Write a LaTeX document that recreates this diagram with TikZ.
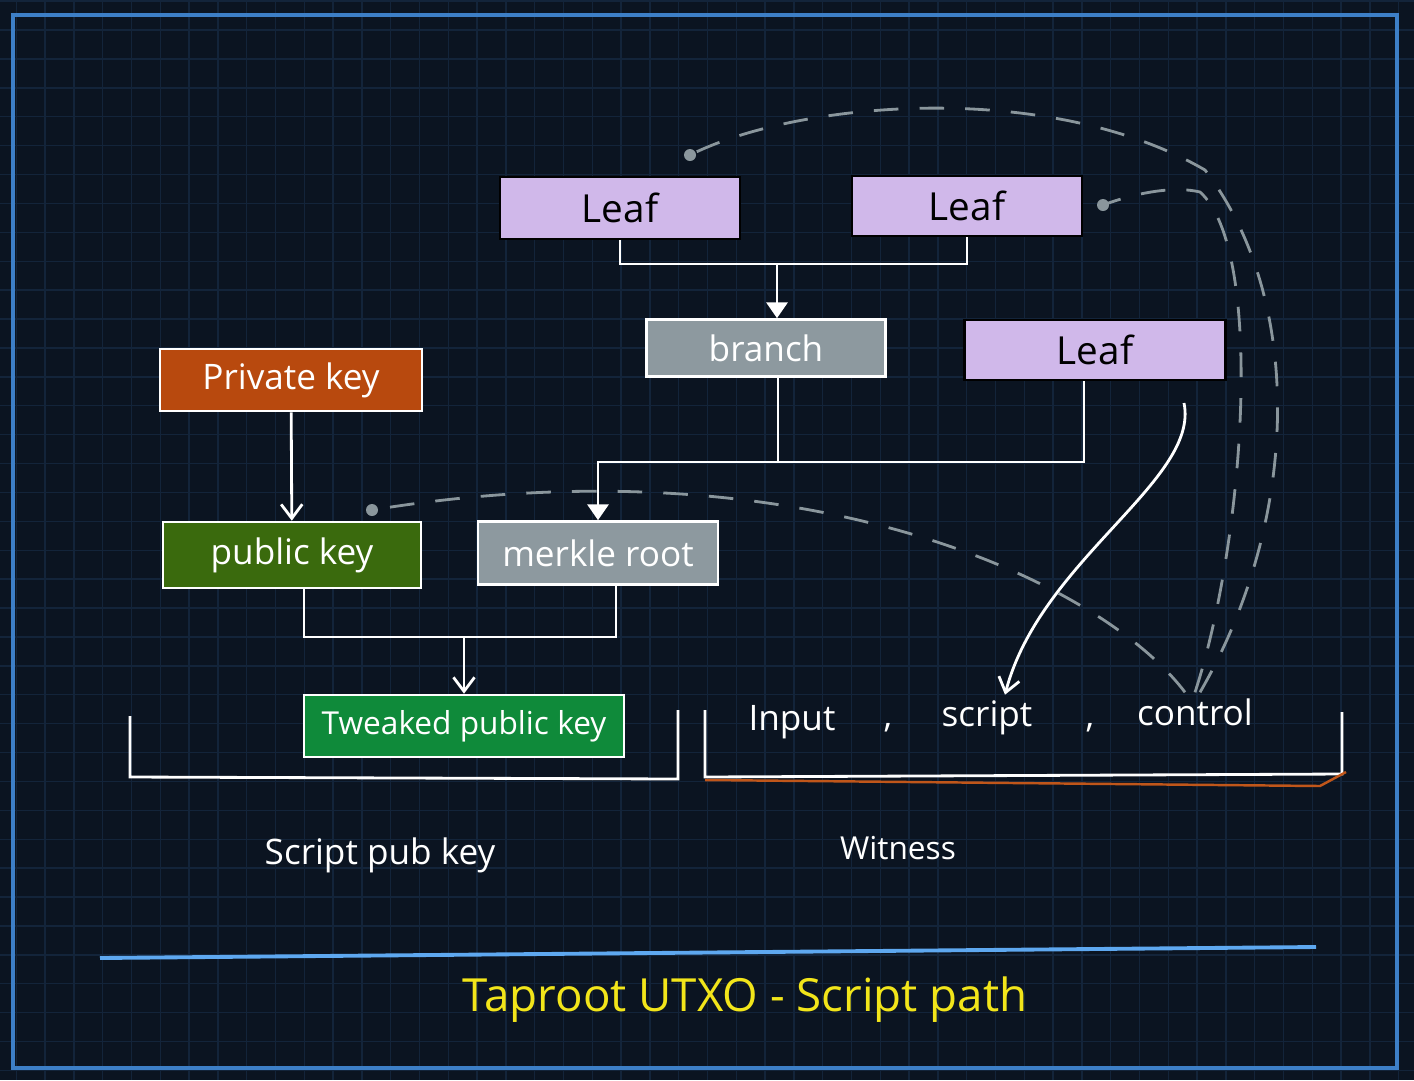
\documentclass[tikz,border=0pt]{standalone}
\usepackage{fontspec}
\setmainfont{Open Sans}
\usetikzlibrary{arrows.meta}

\definecolor{boardbg}{HTML}{0B1421}
\definecolor{gridcol}{HTML}{13243A}
\definecolor{framecol}{HTML}{3D7FC7}
\definecolor{leafcol}{HTML}{D0B8EA}
\definecolor{branchcol}{HTML}{8D999F}
\definecolor{privcol}{HTML}{B8490E}
\definecolor{pubcol}{HTML}{3A6A0D}
\definecolor{tweakcol}{HTML}{0F8A3A}
\definecolor{dashcol}{HTML}{8A969C}
\definecolor{rulecol}{HTML}{5EA8F0}
\definecolor{titlecol}{HTML}{F2E51A}
\definecolor{bracketcol}{HTML}{C0561A}

\tikzset{
  leafbox/.style={draw=black, fill=leafcol, line width=1.5pt, text=black,
    font=\fontsize{22}{26}\selectfont, inner sep=0pt},
  whitebox/.style={draw=white, line width=1.5pt, text=white,
    font=\fontsize{20}{24}\selectfont, inner sep=0pt},
  wire/.style={draw=white, line width=1.6pt},
  hint/.style={draw=dashcol, line width=1.6pt, dash pattern=on 14pt off 12pt},
  label/.style={text=white, font=\fontsize{20}{24}\selectfont}
}

\begin{document}
\begin{tikzpicture}[x=0.02cm, y=-0.02cm, >={Straight Barb[length=8pt,width=12pt]}]
	\useasboundingbox (0,0) rectangle (1414,1080);
	\fill[boardbg] (0,0) rectangle (1414,1080);
	\foreach \i in {0,...,48}
		\draw[gridcol, line width=0.8pt] (16.3+28.8*\i,0) -- (16.3+28.8*\i,1080);
	\foreach \i in {0,...,37}
		\draw[gridcol, line width=0.8pt] (0,1.1+28.9*\i) -- (1414,1.1+28.9*\i);
	\draw[framecol, line width=2.2pt] (13,15) rectangle (1397,1068);
	
	% tree of leaves
	\node[leafbox, minimum width=4.8cm, minimum height=1.24cm] (leafA) at (620,208) {Leaf};
	\node[leafbox, minimum width=4.6cm, minimum height=1.2cm] (leafB) at (967,206) {Leaf};
	\node[whitebox, fill=branchcol, minimum width=4.78cm, minimum height=1.14cm] (branch) at (766,348) {branch};
	\node[leafbox, minimum width=5.22cm, minimum height=1.2cm] (leafC) at (1095,350) {Leaf};
	
	% keys
	\node[whitebox, fill=privcol, minimum width=5.24cm, minimum height=1.24cm] (privkey) at (291,380) {Private key};
	\node[whitebox, fill=pubcol, minimum width=5.16cm, minimum height=1.32cm] (pubkey) at (292,555) {public key};
	\node[whitebox, fill=branchcol, minimum width=4.8cm, minimum height=1.26cm] (merkle) at (598,553) {merkle root};
	\node[whitebox, fill=tweakcol, minimum width=6.4cm, minimum height=1.24cm,
		font=\fontsize{18}{22}\selectfont] (tweaked) at (464,726) {Tweaked public key};
	
	% witness items
	\node[label] (input) at (792,722) {Input};
	\node[label] (commaA) at (888,728) {,};
	\node[label] (script) at (987,718) {script};
	\node[label] (commaB) at (1090,728) {,};
	\node[label] (control) at (1195,712) {control};
	
	\node[label] (spk) at (380,855) {Script pub key};
	\node[label, font=\fontsize{18}{22}\selectfont] (witness) at (898,848) {Witness};
	\node[text=titlecol, font=\fontsize{26}{30}\selectfont] (title) at (745,1000) {Taproot UTXO - Script path};
	
	% joints
	\coordinate (jA) at (777,264);
	\coordinate (jB) at (778,462);
	\coordinate (jC) at (464,637);
	\coordinate (cA) at (1184,403);
	\coordinate (dA) at (690,155);
	\coordinate (dB) at (1103,205);
	\coordinate (dC) at (372,510);
	
	\draw[wire] (leafA.south) |- (jA) -| (leafB.south);
	\draw[wire, -{Triangle[length=9pt,width=12pt]}] (jA) -- (jA |- branch.north);
	\draw[wire] (jB |- branch.south) -- (jB);
	\draw[wire] ([xshift=-0.22cm]leafC.south) |- (jB);
	\draw[wire, -{Triangle[length=9pt,width=12pt]}] (jB) -| (merkle.north);
	\draw[wire, ->] (privkey) -- (pubkey);
	\draw[wire] ([xshift=0.24cm]pubkey.south) |- (jC) -| ([xshift=0.36cm]merkle.south);
	\draw[wire, ->] (jC) -- (tweaked.north);
	\draw[wire, ->] (cA) .. controls (1200,480) and (1040,560) .. ([xshift=0.36cm]script.north);
	
	% hints back to the tree
	\draw[hint] ([xshift=-0.2cm]control.north) .. controls (1100,580) and (800,440) .. (dC);
	\draw[hint] ([xshift=0.1cm]control.north) .. controls (1300,520) and (1305,300) .. (1205,170)
		.. controls (1050,80) and (800,100) .. (dA);
	\draw[hint] (control.north) .. controls (1245,540) and (1265,250) .. (1200,192)
		.. controls (1170,185) and (1130,195) .. (dB);
	\foreach \d in {dA,dB,dC}
		\fill[dashcol] (\d) circle (6);
	
	% brackets
	\draw[wire] (130,716) -- (130,777) -- (678,779) -- (678,710);
	\draw[wire] (705,710) -- (705,777) -- (1342,774) -- (1342,712);
	\draw[bracketcol, line width=1.4pt] (705,780) -- (1320,786) -- (1346,772);
	
	\draw[rulecol, line width=2.2pt] (100,958) -- (1316,947);
\end{tikzpicture}
\end{document}
